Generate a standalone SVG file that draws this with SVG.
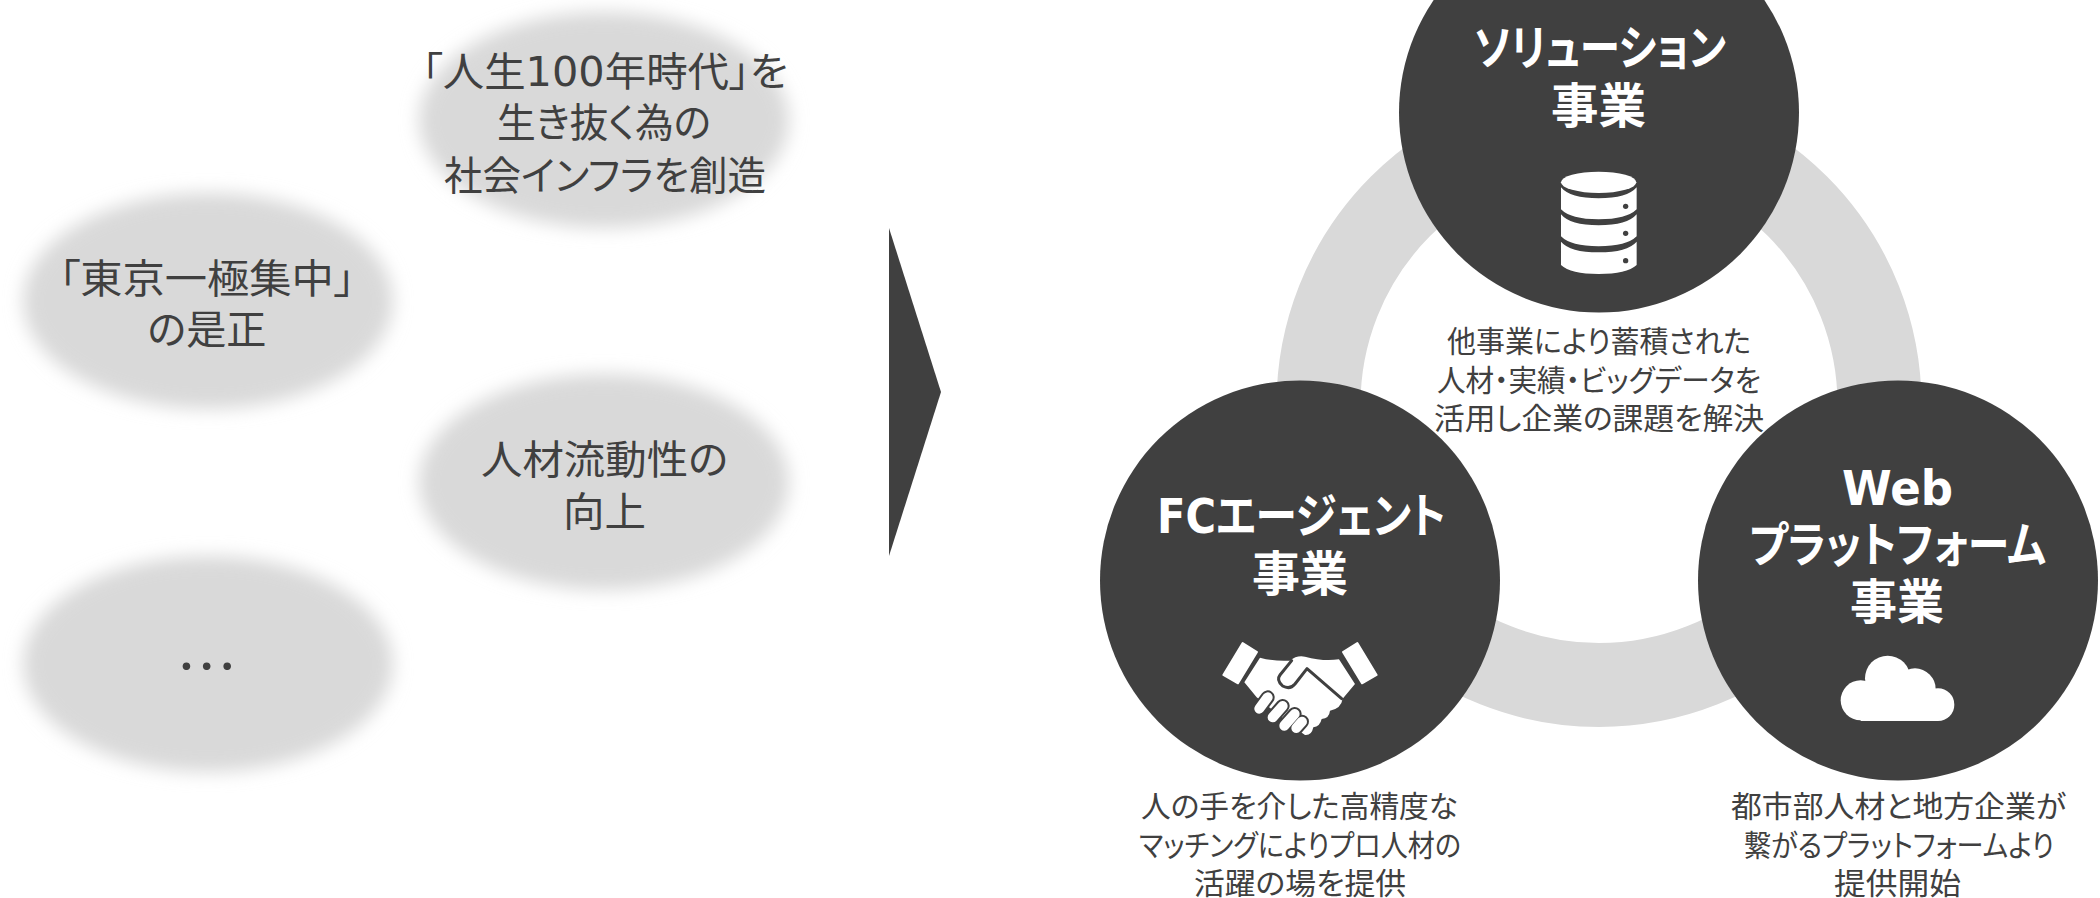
<svg xmlns="http://www.w3.org/2000/svg" width="2100" height="898" viewBox="0 0 2100 898">
<style>
text{font-family:"DejaVu Sans","Noto Sans CJK JP",sans-serif;text-anchor:middle;font-feature-settings:"palt"}
.l{font-size:40px;fill:#404040}
.s{font-size:30px;fill:#404040}
.h{font-size:48px;fill:#fff;font-weight:700}
text.dots{font-family:"Lato",sans-serif;font-size:50px;fill:#404040;font-weight:700;letter-spacing:8.5px}
.bub{fill:#d9d9d9;filter:url(#b)}
.c{fill:#404040}
.w{fill:#fff}
</style>
<defs><filter id="b" x="-15%" y="-20%" width="130%" height="140%"><feGaussianBlur stdDeviation="9"/></filter></defs>
<rect width="2100" height="898" fill="#fff"/>
<g id="bubble-1"><ellipse class="bub" cx="604" cy="120" rx="185" ry="108"/>
<text class="l" x="605" y="86" textLength="366" lengthAdjust="spacingAndGlyphs">「人生100年時代」を</text><text class="l" x="604" y="137" textLength="214" lengthAdjust="spacingAndGlyphs">生き抜く為の</text><text class="l" x="605" y="190" textLength="322" lengthAdjust="spacingAndGlyphs">社会インフラを創造</text></g>
<g id="bubble-2"><ellipse class="bub" cx="208" cy="301" rx="185" ry="108"/>
<text class="l" x="207" y="293" textLength="296" lengthAdjust="spacingAndGlyphs">「東京一極集中」</text><text class="l" x="207" y="344" textLength="119" lengthAdjust="spacingAndGlyphs">の是正</text></g>
<g id="bubble-3"><ellipse class="bub" cx="604" cy="482" rx="185" ry="108"/>
<text class="l" x="604.500" y="474" textLength="247" lengthAdjust="spacingAndGlyphs">人材流動性の</text><text class="l" x="604.500" y="526" textLength="83" lengthAdjust="spacingAndGlyphs">向上</text></g>
<g id="bubble-4"><ellipse class="bub" cx="208" cy="664" rx="185" ry="108"/>
<text class="dots" x="211" y="670">...</text></g>
<polygon id="arrow" class="c" points="889,228 941,392 889,556"/>
<circle id="ring" cx="1599" cy="404.500" r="280.500" fill="none" stroke="#d9d9d9" stroke-width="84"/>
<g id="solution"><circle class="c" cx="1599" cy="112.500" r="200"/>
<text class="h" x="1600" y="65" textLength="252" lengthAdjust="spacingAndGlyphs">ソリューション</text><text class="h" x="1598.500" y="123" textLength="95" lengthAdjust="spacingAndGlyphs">事業</text>
<g transform="translate(1480,150) scale(.3333)">
<ellipse class="w" cx="356" cy="97" rx="113" ry="32"/>
<path class="w" d="M243,112 Q270,145 356,145 Q442,145 470,112 V178 Q440,208 356,208 Q272,208 243,178Z"/>
<path class="w" d="M243,193 Q270,226 356,226 Q442,226 470,193 V259 Q440,289 356,289 Q272,289 243,259Z"/>
<path class="w" d="M243,275 Q270,307 356,307 Q442,307 470,275 V345 Q440,372 356,372 Q272,372 243,345Z"/>
<circle class="c" cx="437" cy="169" r="8"/><circle class="c" cx="437" cy="250" r="8"/><circle class="c" cx="437" cy="332" r="8"/>
</g></g>
<g id="fc"><circle class="c" cx="1300" cy="580.500" r="200"/>
<text class="h" x="1301.500" y="533" textLength="289" lengthAdjust="spacingAndGlyphs">FCエージェント</text><text class="h" x="1300" y="591" textLength="96" lengthAdjust="spacingAndGlyphs">事業</text>
<g transform="translate(1180,620) scale(.3333)">
<path class="w" stroke="#fff" stroke-width="6" stroke-linejoin="round" d="M188,69 L231,96 L174,190 L130,165Z"/>
<path class="w" stroke="#fff" stroke-width="6" stroke-linejoin="round" d="M532,69 L590,165 L546,190 L489,96Z"/>
<path class="w" d="M240,113 Q285,125 330,122 Q350,105 375,110 Q430,125 477,118 L525,192 L488,236 Q484,265 450,272 Q448,295 425,297 Q420,320 400,322 Q395,347 375,345 L340,320 L230,232 L193,187Z"/>
<path fill="none" stroke="#404040" stroke-width="9" stroke-linejoin="round" stroke-linecap="round" d="M485,236 L381,146 L345,192 Q330,210 308,198 Q288,180 300,165 L335,122"/>
<g fill="none" stroke-linecap="round"><g stroke="#404040" stroke-width="42"><path d="M263,232 L238,266"/><path d="M308,258 L278,292"/><path d="M344,282 L313,317"/><path d="M366,305 L349,324"/></g>
<g stroke="#fff" stroke-width="30"><path d="M263,232 L238,266"/><path d="M308,258 L278,292"/><path d="M344,282 L313,317"/><path d="M366,305 L349,324"/></g></g>
</g></g>
<g id="web"><circle class="c" cx="1898" cy="580.500" r="200"/>
<text class="h" x="1897.500" y="505" textLength="111" lengthAdjust="spacingAndGlyphs">Web</text><text class="h" x="1897.500" y="562" textLength="297" lengthAdjust="spacingAndGlyphs">プラットフォーム</text><text class="h" x="1897" y="619" textLength="94" lengthAdjust="spacingAndGlyphs">事業</text>
<g class="w" transform="translate(1800,640) scale(.3333)">
<circle cx="182" cy="181" r="60"/><circle cx="263" cy="115" r="68"/><circle cx="345" cy="147" r="62"/><circle cx="414" cy="194" r="49"/><rect x="182" y="170" width="232" height="73"/>
</g></g>
<g id="cap-solution"><text class="s" x="1599" y="352" textLength="304" lengthAdjust="spacingAndGlyphs">他事業により蓄積された</text><text class="s" x="1599" y="391" textLength="324" lengthAdjust="spacingAndGlyphs">人材・実績・ビッグデータを</text><text class="s" x="1599" y="429" textLength="330" lengthAdjust="spacingAndGlyphs">活用し企業の課題を解決</text></g>
<g id="cap-fc"><text class="s" x="1299.500" y="817" textLength="317" lengthAdjust="spacingAndGlyphs">人の手を介した高精度な</text><text class="s" x="1300" y="856" textLength="322" lengthAdjust="spacingAndGlyphs">マッチングによりプロ人材の</text><text class="s" x="1300" y="894" textLength="212" lengthAdjust="spacingAndGlyphs">活躍の場を提供</text></g>
<g id="cap-web"><text class="s" x="1898.500" y="817" textLength="335" lengthAdjust="spacingAndGlyphs">都市部人材と地方企業が</text><text class="s" x="1899" y="856" textLength="310" lengthAdjust="spacingAndGlyphs">繋がるプラットフォームより</text><text class="s" x="1897.500" y="894" textLength="127" lengthAdjust="spacingAndGlyphs">提供開始</text></g>
</svg>
